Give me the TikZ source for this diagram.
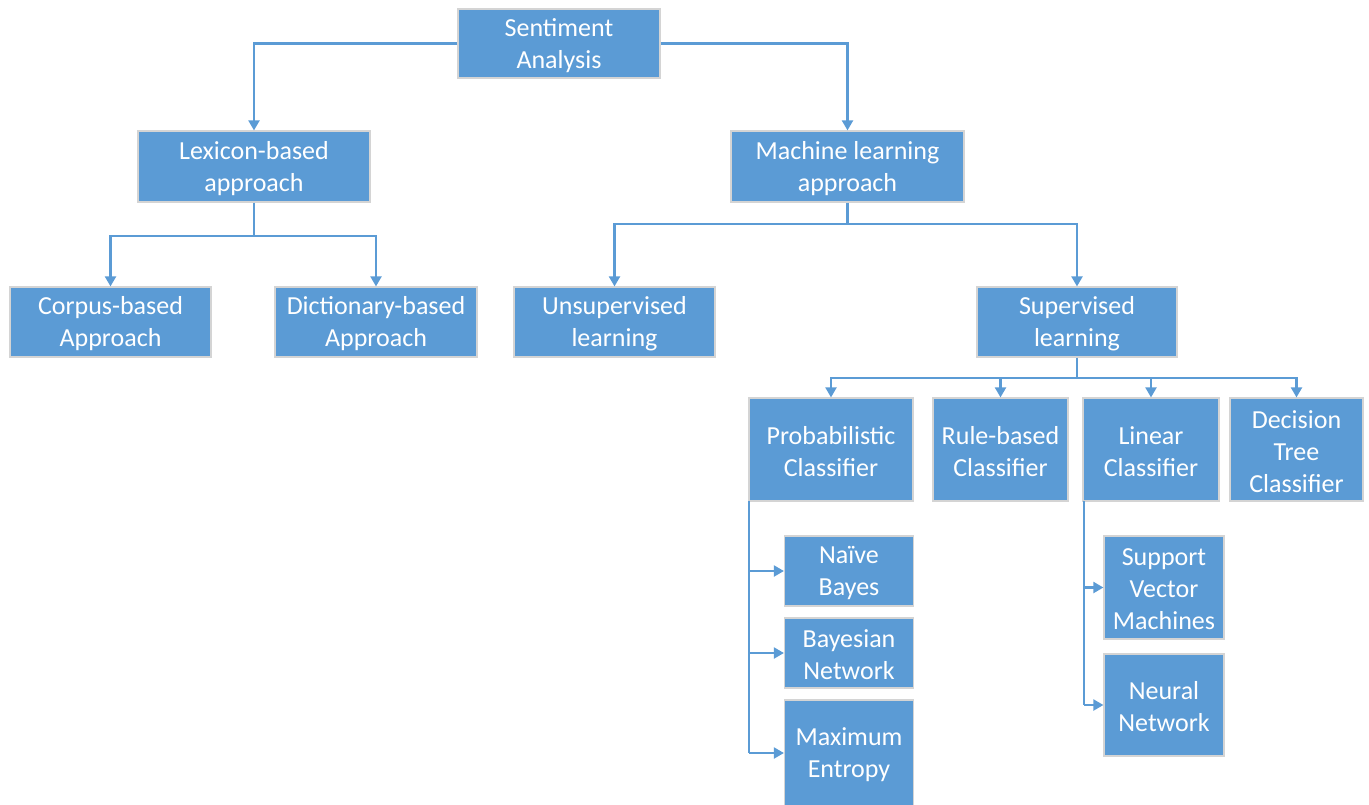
\documentclass[tikz,border=0pt]{standalone}
\usepackage{fontspec}
\setmainfont{Carlito}
\usetikzlibrary{arrows.meta}
\definecolor{boxblue}{HTML}{5B9BD5}
\definecolor{edgegray}{HTML}{D4D4D4}
\tikzset{
  box/.style={rectangle, fill=boxblue, draw=edgegray, line width=1.2pt, inner sep=0pt},
  txt/.style={inner sep=0pt, text=white, align=center, font=\fontsize{26}{32}\selectfont},
  line/.style={draw=boxblue, line width=2.1pt},
  conn/.style={line, -{Triangle[length=10pt,width=11pt]}}
}
% #1 name, #2 cx, #3 cy, #4 width, #5 height, #6 text
\newcommand\mybox[6]{%
  \node[box, minimum width=#4, minimum height=#5] (#1) at (#2,#3) {};
  \node[txt] (#1t) at ([yshift=-2pt]#1.center) {#6};}
\begin{document}
\begin{tikzpicture}[x=1pt,y=-1pt]
\useasboundingbox (0,0) rectangle (1369,804);
\mybox{sa}{559}{43.5}{202}{69}{Sentiment\\Analysis}
\mybox{lex}{254}{166.5}{232}{71}{Lexicon-based\\approach}
\mybox{ml}{847.5}{166.5}{233}{71}{Machine learning\\approach}
\mybox{corp}{110.5}{322}{201}{70}{Corpus-based\\Approach}
\mybox{dict}{376}{322}{202}{70}{Dictionary-based\\Approach}
\mybox{uns}{614.5}{322}{201}{70}{Unsupervised\\learning}
\mybox{sup}{1077}{322}{200}{70}{Supervised\\learning}
\mybox{prob}{831}{449.5}{164}{103}{Probabilistic\\Classifier}
\mybox{rule}{1000.5}{449.5}{135}{103}{Rule-based\\Classifier}
\mybox{lin}{1151}{449.5}{136}{103}{Linear\\Classifier}
\mybox{dt}{1296.5}{449.5}{133}{103}{Decision\\Tree\\Classifier}
\mybox{nb}{849}{571}{129}{70}{Naïve\\Bayes}
\mybox{bn}{849}{653}{129}{70}{Bayesian\\Network}
\mybox{me}{849}{753}{129}{106}{Maximum\\Entropy}
\mybox{svm}{1164}{587.5}{120}{103}{Support\\Vector\\Machines}
\mybox{nn}{1164}{705}{120}{102}{Neural\\Network}
% connectors
\draw[conn] (sa.west) -| (lex.north);
\draw[conn] (sa.east) -| (ml.north);
\coordinate (lexj) at (254,236);
\draw[line] (lex.south) -- (lexj);
\draw[conn] (lexj) -| (corp.north);
\draw[conn] (lexj) -| (dict.north);
\coordinate (mlj) at (847.5,224);
\draw[line] (ml.south) -- (mlj);
\draw[conn] (mlj) -| (uns.north);
\draw[conn] (mlj) -| (sup.north);
\coordinate (supj) at (1077,378);
\draw[line] (sup.south) -- (supj);
\draw[conn] (supj) -| (prob.north);
\draw[conn] (supj) -| (rule.north);
\draw[conn] (supj) -| (lin.north);
\draw[conn] (supj) -| (dt.north);
\coordinate (pt) at (749,501);
\draw[line] (pt) -- (pt |- me.west);
\draw[conn] (pt |- nb.west) -- (nb.west);
\draw[conn] (pt |- bn.west) -- (bn.west);
\draw[conn] (pt |- me.west) -- (me.west);
\coordinate (lt) at (1084,501);
\draw[line] (lt) -- (lt |- nn.west);
\draw[conn] (lt |- svm.west) -- (svm.west);
\draw[conn] (lt |- nn.west) -- (nn.west);
\end{tikzpicture}
\end{document}
